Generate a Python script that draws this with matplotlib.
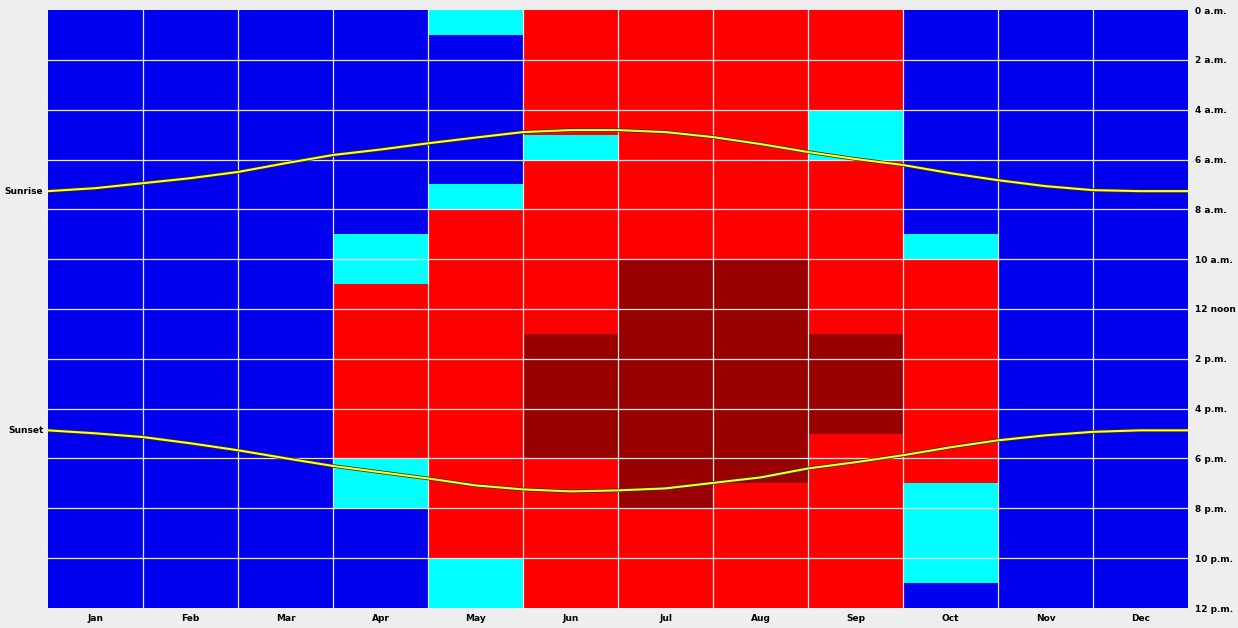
import matplotlib
matplotlib.use("Agg")
import matplotlib.pyplot as plt
import numpy as np
from matplotlib.colors import ListedColormap, BoundaryNorm
import matplotlib.patheffects as pe

months = ["Jan", "Feb", "Mar", "Apr", "May", "Jun", "Jul", "Aug", "Sep", "Oct", "Nov", "Dec"]
hour_labels = ["0 a.m.", "2 a.m.", "4 a.m.", "6 a.m.", "8 a.m.", "10 a.m.", "12 noon",
               "2 p.m.", "4 p.m.", "6 p.m.", "8 p.m.", "10 p.m.", "12 p.m."]

# category per hour (0..23), 0=blue, 1=cyan, 2=red, 3=dark red
jan = [0] * 24
feb = [0] * 24
mar = [0] * 24
apr = [0] * 9 + [1] * 2 + [2] * 7 + [1] * 2 + [0] * 4
may = [1] * 1 + [0] * 6 + [1] * 1 + [2] * 14 + [1] * 2
jun = [2] * 5 + [1] * 1 + [2] * 7 + [3] * 5 + [2] * 6
jul = [2] * 10 + [3] * 10 + [2] * 4
aug = [2] * 10 + [3] * 9 + [2] * 5
sep = [2] * 4 + [1] * 2 + [2] * 7 + [3] * 4 + [2] * 7
oct_ = [0] * 9 + [1] * 1 + [2] * 9 + [1] * 4 + [0] * 1
nov = [0] * 24
dec = [0] * 24

# sunrise / sunset (hours) at month starts and mid-months (x = 0, 0.5, ..., 12)
sun_x = [0, 0.5, 1, 1.5, 2, 2.5, 3, 3.5, 4, 4.5, 5, 5.5, 6, 6.5, 7, 7.5, 8, 8.5, 9, 9.5, 10, 10.5, 11, 11.5, 12]
sunrise = [7.27, 7.15, 6.95, 6.75, 6.5, 6.15, 5.82, 5.6, 5.35, 5.12, 4.9, 4.82, 4.82, 4.9, 5.1, 5.38,
           5.7, 5.98, 6.22, 6.55, 6.83, 7.07, 7.23, 7.27, 7.27]
sunset = [16.87, 16.99, 17.14, 17.39, 17.67, 17.99, 18.3, 18.55, 18.8, 19.08, 19.24, 19.32, 19.28, 19.2,
          18.98, 18.76, 18.4, 18.15, 17.87, 17.55, 17.27, 17.07, 16.93, 16.87, 16.87]

grid = np.array([jan, feb, mar, apr, may, jun, jul, aug, sep, oct_, nov, dec]).T  # 24 x 12

fig = plt.figure(figsize=(12.38, 6.28), dpi=100, facecolor="#eeeeee")
ax = fig.add_axes([48 / 1238, 1 - 608 / 628, 1140 / 1238, 598 / 628])

cmap = ListedColormap(["#0000ee", "#00ffff", "#ff0000", "#990000"])
norm = BoundaryNorm([-0.5, 0.5, 1.5, 2.5, 3.5], 4)
ax.pcolormesh(np.arange(13), np.arange(25), grid, cmap=cmap, norm=norm, shading="flat")

for xv in range(1, 12):
    ax.axvline(xv, color="#e8e8e8", lw=0.9, zorder=2)
for yv in range(2, 24, 2):
    ax.axhline(yv, color="#e8e8e8", lw=0.9, zorder=2)

for ys in (sunrise, sunset):
    ax.plot(sun_x, ys, color="#ffff30", lw=1.5, zorder=3,
            path_effects=[pe.Stroke(linewidth=2.6, foreground="#333300"), pe.Normal()])

ax.set_xlim(0, 12)
ax.set_ylim(24, 0)
ax.set_xticks(np.arange(12) + 0.5)
ax.set_xticklabels(months, fontsize=6.5, fontweight="bold")
ax.set_yticks(np.arange(0, 25, 2))
ax.set_yticklabels(hour_labels, fontsize=6.5, fontweight="bold")
ax.yaxis.tick_right()
ax.tick_params(axis="y", length=0, pad=5)
ax.tick_params(axis="x", length=0, pad=4)
for s in ax.spines.values():
    s.set_visible(False)

ax.text(-0.004, sunrise[0], "Sunrise", transform=ax.get_yaxis_transform(), ha="right", va="center",
        fontsize=6.5, fontweight="bold")
ax.text(-0.004, sunset[0], "Sunset", transform=ax.get_yaxis_transform(), ha="right", va="center",
        fontsize=6.5, fontweight="bold")

fig.savefig("out.png", dpi=100, facecolor=fig.get_facecolor())
